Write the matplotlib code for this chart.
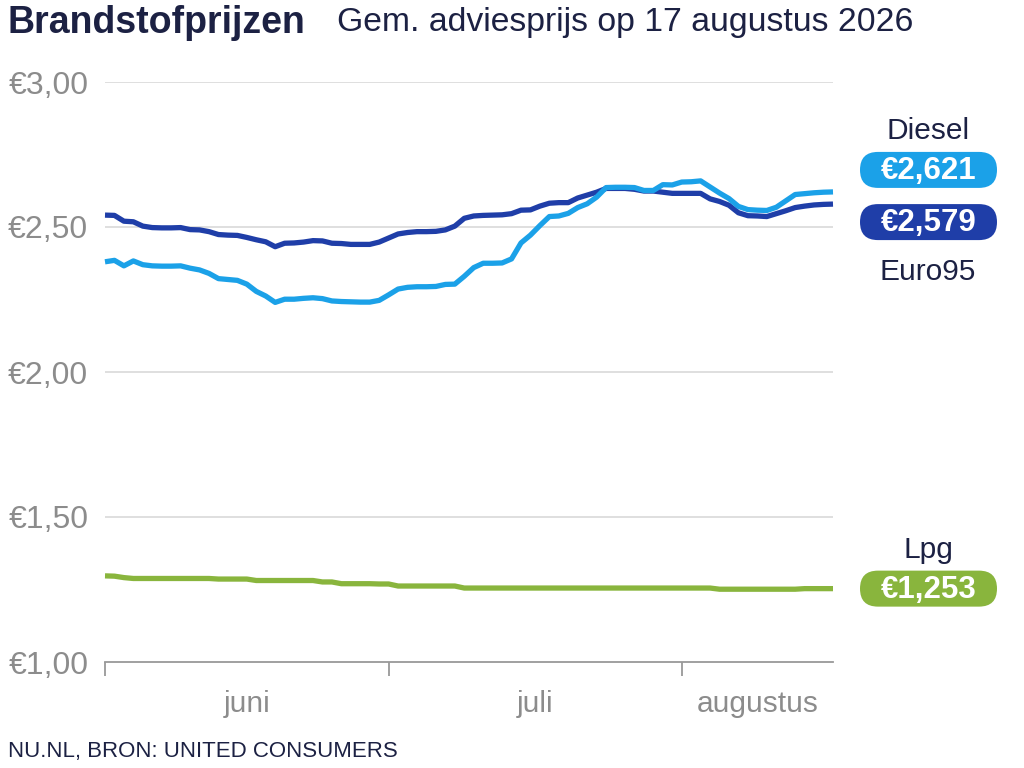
import numpy as np
import matplotlib
matplotlib.use("Agg")
from matplotlib import pyplot as plt
from matplotlib.patches import FancyBboxPatch

plt.rcParams['font.family'] = ['Liberation Sans', 'DejaVu Sans']

# daily prices, 1 juni .. 17 augustus
days = np.arange(78)

euro95 = [2.541, 2.540, 2.520, 2.518, 2.503, 2.498, 2.497, 2.497, 2.498, 2.491,
          2.490, 2.484, 2.474, 2.472, 2.471, 2.464, 2.456, 2.449, 2.432, 2.444,
          2.445, 2.448, 2.453, 2.452, 2.444, 2.443, 2.440, 2.440, 2.440, 2.448,
          2.462, 2.476, 2.481, 2.484, 2.484, 2.485, 2.490, 2.503, 2.530, 2.538,
          2.540, 2.541, 2.542, 2.546, 2.558, 2.559, 2.572, 2.582, 2.584, 2.584,
          2.600, 2.610, 2.620, 2.633, 2.633, 2.633, 2.630, 2.624, 2.624, 2.620,
          2.616, 2.616, 2.616, 2.616, 2.597, 2.588, 2.575, 2.549, 2.539, 2.538,
          2.536, 2.546, 2.556, 2.567, 2.572, 2.576, 2.578, 2.579]

diesel = [2.380, 2.385, 2.366, 2.383, 2.370, 2.366, 2.365, 2.365, 2.366, 2.358,
          2.352, 2.340, 2.322, 2.319, 2.316, 2.303, 2.278, 2.262, 2.240, 2.251,
          2.251, 2.254, 2.256, 2.253, 2.245, 2.243, 2.242, 2.241, 2.241, 2.247,
          2.266, 2.286, 2.292, 2.294, 2.294, 2.295, 2.302, 2.303, 2.330, 2.360,
          2.375, 2.375, 2.376, 2.390, 2.445, 2.472, 2.505, 2.536, 2.538, 2.547,
          2.567, 2.580, 2.603, 2.636, 2.637, 2.637, 2.636, 2.626, 2.626, 2.646,
          2.645, 2.655, 2.656, 2.659, 2.638, 2.617, 2.598, 2.571, 2.560, 2.558,
          2.557, 2.568, 2.590, 2.612, 2.615, 2.618, 2.620, 2.621]

lpg = [1.297, 1.296, 1.291, 1.288, 1.288, 1.288, 1.288, 1.288, 1.288, 1.288,
       1.288, 1.288, 1.286, 1.286, 1.286, 1.286, 1.281, 1.281, 1.281, 1.281,
       1.281, 1.281, 1.281, 1.276, 1.276, 1.270, 1.270, 1.270, 1.270, 1.269,
       1.269, 1.262, 1.262, 1.262, 1.262, 1.262, 1.262, 1.262, 1.255, 1.255,
       1.255, 1.255, 1.255, 1.255, 1.255, 1.255, 1.255, 1.255, 1.255, 1.255,
       1.255, 1.255, 1.255, 1.255, 1.255, 1.255, 1.255, 1.255, 1.255, 1.255,
       1.255, 1.255, 1.255, 1.255, 1.255, 1.251, 1.251, 1.251, 1.251, 1.251,
       1.251, 1.251, 1.251, 1.251, 1.253, 1.253, 1.253, 1.253]

month_ticks = [0, 30, 61]
month_names = ["juni", "juli", "augustus"]
yticks = [1.0, 1.5, 2.0, 2.5, 3.0]
ylabels = ["€1,00", "€1,50", "€2,00", "€2,50", "€3,00"]

c_diesel = "#1ba1e8"
c_euro = "#1f3ea8"
c_lpg = "#89b53d"
navy = "#1c2143"
grey = "#8c8c8c"

W, H = 1024, 768
fig = plt.figure(figsize=(W / 100, H / 100), dpi=100)
ax = fig.add_axes([105 / W, (H - 662) / H, (833 - 105) / W, (662 - 82) / H])
ax.set_xlim(0, 77)
ax.set_ylim(1.0, 3.0)

for y in yticks[1:]:
    ax.axhline(y, color="#dcdcdc", lw=1.3, zorder=1)

ax.plot(days, lpg, color=c_lpg, lw=3.8, solid_capstyle="butt", clip_on=False, zorder=3)
ax.plot(days, euro95, color=c_euro, lw=3.8, solid_capstyle="butt", clip_on=False, zorder=3)
ax.plot(days, diesel, color=c_diesel, lw=3.8, solid_capstyle="butt", clip_on=False, zorder=4)

for s in ["top", "right", "left"]:
    ax.spines[s].set_visible(False)
ax.spines["bottom"].set_color("#999999")
ax.spines["bottom"].set_linewidth(1.3)
ax.set_xticks(month_ticks)
ax.set_xticklabels([])
ax.tick_params(axis="x", length=10, width=1.3, color="#999999", direction="out")
ax.set_yticks(yticks)
ax.set_yticklabels(ylabels, fontsize=23, color=grey)
ax.tick_params(axis="y", length=0, pad=12)

# month labels centred in each month span
bounds = month_ticks + [77]
for i, name in enumerate(month_names):
    xm = (bounds[i] + bounds[i + 1]) / 2
    ax.text(xm, -0.072, name, transform=ax.get_xaxis_transform(), ha="center", va="center",
            fontsize=21.5, color=grey)

# overlay in pixel units for titles and value pills
ov = fig.add_axes([0, 0, 1, 1], zorder=5)
ov.set_xlim(0, W)
ov.set_ylim(H, 0)
ov.axis("off")

ov.text(8, 23, "Brandstofprijzen", fontsize=27, fontweight="bold", color=navy, va="center", ha="left")
ov.text(337, 23, "Gem. adviesprijs op 17 augustus 2026", fontsize=24.3, color=navy, va="center", ha="left")
ov.text(8, 752, "NU.NL, BRON: UNITED CONSUMERS", fontsize=16, color=navy, va="center", ha="left")

fig.canvas.draw()


def ypix(v):
    return H - ax.transData.transform((0, v))[1]


def pill(yc, text, color):
    x0, w, h = 860, 137, 36
    ov.add_patch(FancyBboxPatch((x0, yc - h / 2), w, h, boxstyle="round,pad=0,rounding_size=18",
                                fc=color, ec="none"))
    ov.text(x0 + w / 2, yc + 1, text, fontsize=22.5, fontweight="bold", color="white",
            ha="center", va="center")


# diesel and euro95 pills pushed apart so they don't overlap
yd = ypix(diesel[-1]) - 22
ye = ypix(euro95[-1]) + 18
yl = ypix(lpg[-1])
pill(yd, "€2,621", c_diesel)
pill(ye, "€2,579", c_euro)
pill(yl, "€1,253", c_lpg)
ov.text(928, yd - 39, "Diesel", fontsize=21.5, color=navy, ha="center", va="center")
ov.text(928, ye + 50, "Euro95", fontsize=21.5, color=navy, ha="center", va="center")
ov.text(928, yl - 39, "Lpg", fontsize=21.5, color=navy, ha="center", va="center")

fig.savefig("out.png", dpi=100)
